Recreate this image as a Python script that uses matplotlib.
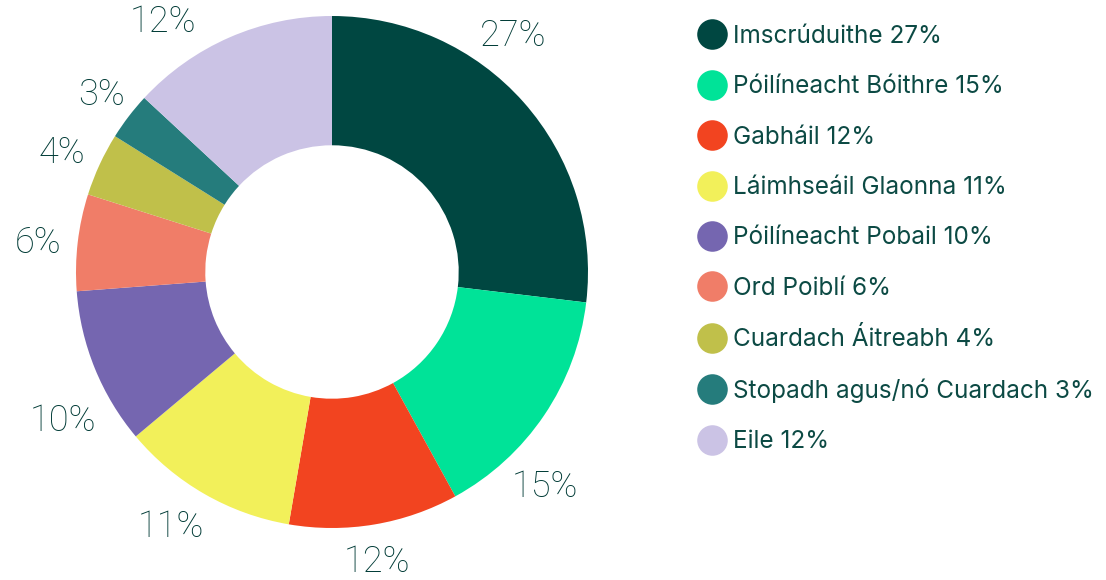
import matplotlib
matplotlib.use('Agg')
import matplotlib.pyplot as plt
from matplotlib.lines import Line2D
import numpy as np

categories = ['Imscrúduithe', 'Póilíneacht Bóithre', 'Gabháil', 'Láimhseáil Glaonna',
              'Póilíneacht Pobail', 'Ord Poiblí', 'Cuardach Áitreabh',
              'Stopadh agus/nó Cuardach', 'Eile']
# printed percentages
pct_labels = [27, 15, 12, 11, 10, 6, 4, 3, 12]
# wedge sizes as drawn in the picture (they don't quite follow the labels)
shares = [26.9, 15.1, 10.7, 11.2, 9.9, 6.1, 4.0, 3.0, 13.1]
colors = ['#004741', '#00e398', '#f24420', '#f2f05a', '#7566b0',
          '#f07d68', '#c0c04a', '#257c7c', '#cbc3e5']

# label nudges (degrees, ccw) and radial distance, to sit like the original
label_shift = [10.9, -11.3, -0.7, -2.4, 6.9, 1.1, 1.0, -0.1, 10.5]
label_dist = [1.162, 1.182, 1.146, 1.178, 1.201, 1.154, 1.152, 1.137, 1.179]

text_color = '#0c4a44'

fig = plt.figure(figsize=(11.06, 5.8), dpi=100)
ax = fig.add_axes([76 / 1106, 52 / 580, 512 / 1106, 512 / 580])

wedges, _ = ax.pie(shares, colors=colors, startangle=90, counterclock=False,
                   radius=1, wedgeprops=dict(width=0.505, linewidth=0))
ax.set_xlim(-1, 1)
ax.set_ylim(-1, 1)
ax.set_aspect('equal')
ax.axis('off')

for w, v, sh, d in zip(wedges, pct_labels, label_shift, label_dist):
    ang = np.deg2rad((w.theta1 + w.theta2) / 2 + sh)
    ax.text(d * np.cos(ang), d * np.sin(ang), f'{v}%', ha='center', va='center',
            fontsize=26, color='#003b36', family='Roboto', fontweight='light')

handles = [Line2D([], [], marker='o', linestyle='none', markersize=22,
                  markerfacecolor=c, markeredgewidth=0) for c in colors]
labels = [f'{c} {v}%' for c, v in zip(categories, pct_labels)]
fig.legend(handles, labels, loc='upper left', bbox_to_anchor=(697 / 1106, 1 - 25 / 580),
           frameon=False, handlelength=1.23, handletextpad=0.25, labelspacing=1.125,
           prop=dict(family='Inter', size=17.5), labelcolor=text_color,
           borderpad=0, borderaxespad=0)

fig.savefig('out.png', dpi=100)
